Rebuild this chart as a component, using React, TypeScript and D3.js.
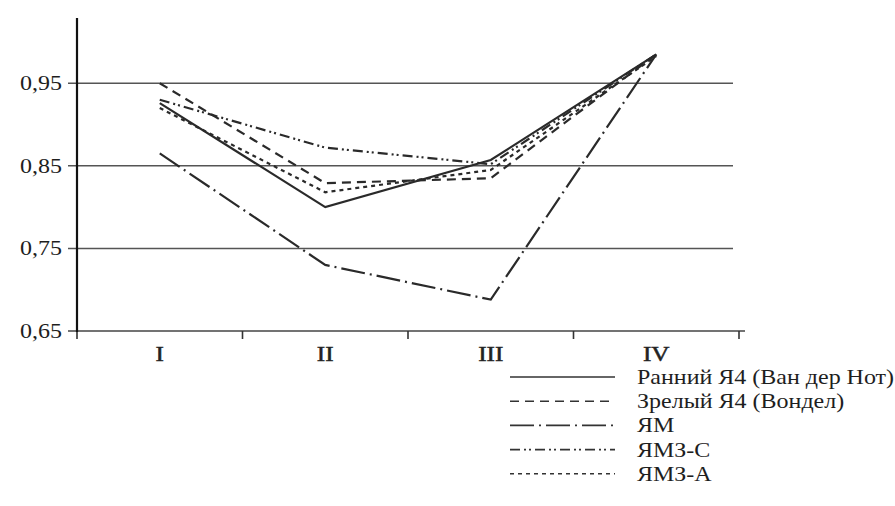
import { useEffect, useRef } from 'react'
import * as d3 from 'd3'

const categories = ['I', 'II', 'III', 'IV']
const yTicks = [0.65, 0.75, 0.85, 0.95]

const seriesNames = [
  'Ранний Я4 (Ван дер Нот)',
  'Зрелый Я4 (Вондел)',
  'ЯМ',
  'ЯМЗ-С',
  'ЯМЗ-А',
]
const earlyY4 = [0.926, 0.800, 0.857, 0.985]
const matureY4 = [0.950, 0.829, 0.835, 0.985]
const ym = [0.865, 0.730, 0.688, 0.985]
const ymzS = [0.930, 0.872, 0.852, 0.985]
const ymzA = [0.920, 0.818, 0.845, 0.983]

const seriesValues = [earlyY4, matureY4, ym, ymzS, ymzA]
const dashes = ['none', '9 6', '24 5 2 5', '10 4 2 3 2 4', '4 4']

const W = 895
const H = 506
const FONT = '"Liberation Serif", "Times New Roman", serif'
const INK = '#1e1e1e'
// the scan is a little stretched sideways
const SX = 1.2

export default function App() {
  const ref = useRef<SVGSVGElement>(null)

  useEffect(() => {
    if (!ref.current) return
    const svg = d3.select(ref.current)
    svg.selectAll('*').remove()

    const x0 = 77, x1 = 739
    const x = d3.scaleBand<string>().domain(categories).range([x0, x1])
    const y = d3.scaleLinear().domain([0.65, 1.029]).range([331, 18])
    const cx = (c: string) => (x(c) ?? 0) + x.bandwidth() / 2

    // horizontal grid lines
    svg.append('g')
      .selectAll('line')
      .data(yTicks.filter(t => t > 0.65))
      .enter().append('line')
      .attr('x1', 68).attr('x2', 733)
      .attr('y1', d => y(d)).attr('y2', d => y(d))
      .attr('stroke', '#555').attr('stroke-width', 1.5)

    // x axis
    svg.append('line')
      .attr('x1', 68).attr('x2', 745)
      .attr('y1', y(0.65)).attr('y2', y(0.65))
      .attr('stroke', '#444').attr('stroke-width', 1.6)
    const xEdges = [...categories.map(c => x(c) ?? 0), x1]
    svg.append('g')
      .selectAll('line')
      .data(xEdges)
      .enter().append('line')
      .attr('x1', d => d).attr('x2', d => d)
      .attr('y1', y(0.65)).attr('y2', y(0.65) + 8)
      .attr('stroke', '#333').attr('stroke-width', 1.6)

    // y axis
    svg.append('line')
      .attr('x1', x0).attr('x2', x0)
      .attr('y1', y.range()[1]).attr('y2', y(0.65) + 1)
      .attr('stroke', '#111').attr('stroke-width', 2.2)

    // y labels
    svg.append('g')
      .selectAll('text')
      .data(yTicks)
      .enter().append('text')
      .attr('transform', d => `translate(62,${y(d) + 7}) scale(${SX},1)`)
      .attr('text-anchor', 'end')
      .attr('font-family', FONT).attr('font-size', 20)
      .attr('fill', INK)
      .text(d => d.toFixed(2).replace('.', ','))

    // x labels
    svg.append('g')
      .selectAll('text')
      .data(categories)
      .enter().append('text')
      .attr('transform', d => `translate(${cx(d)},361) scale(${SX},1)`)
      .attr('text-anchor', 'middle')
      .attr('font-family', FONT).attr('font-size', 21)
      .attr('fill', '#222').attr('stroke', '#222').attr('stroke-width', 0.5)
      .text(d => d)

    // series
    const line = d3.line<number>()
      .x((_, i) => cx(categories[i]))
      .y(d => y(d))

    seriesValues.forEach((vals, i) => {
      svg.append('path')
        .attr('d', line(vals) ?? '')
        .attr('fill', 'none')
        .attr('stroke', '#2a2a2a')
        .attr('stroke-width', 2.2)
        .attr('stroke-dasharray', dashes[i])
    })

    // legend
    const lg = svg.append('g')
    seriesNames.forEach((name, i) => {
      const ly = 377 + i * 24.2
      lg.append('line')
        .attr('x1', 510).attr('x2', 615)
        .attr('y1', ly).attr('y2', ly)
        .attr('stroke', '#333').attr('stroke-width', 1.6)
        .attr('stroke-dasharray', dashes[i])
      lg.append('text')
        .attr('transform', `translate(637,${ly + 7}) scale(${SX},1)`)
        .attr('font-family', FONT).attr('font-size', 20)
        .attr('fill', INK)
        .text(name)
    })
  }, [])

  return (
    <div style={{ position: 'absolute', left: 0, top: 0, background: '#fff' }}>
      <svg ref={ref} width={W} height={H} style={{ display: 'block' }} />
    </div>
  )
}
